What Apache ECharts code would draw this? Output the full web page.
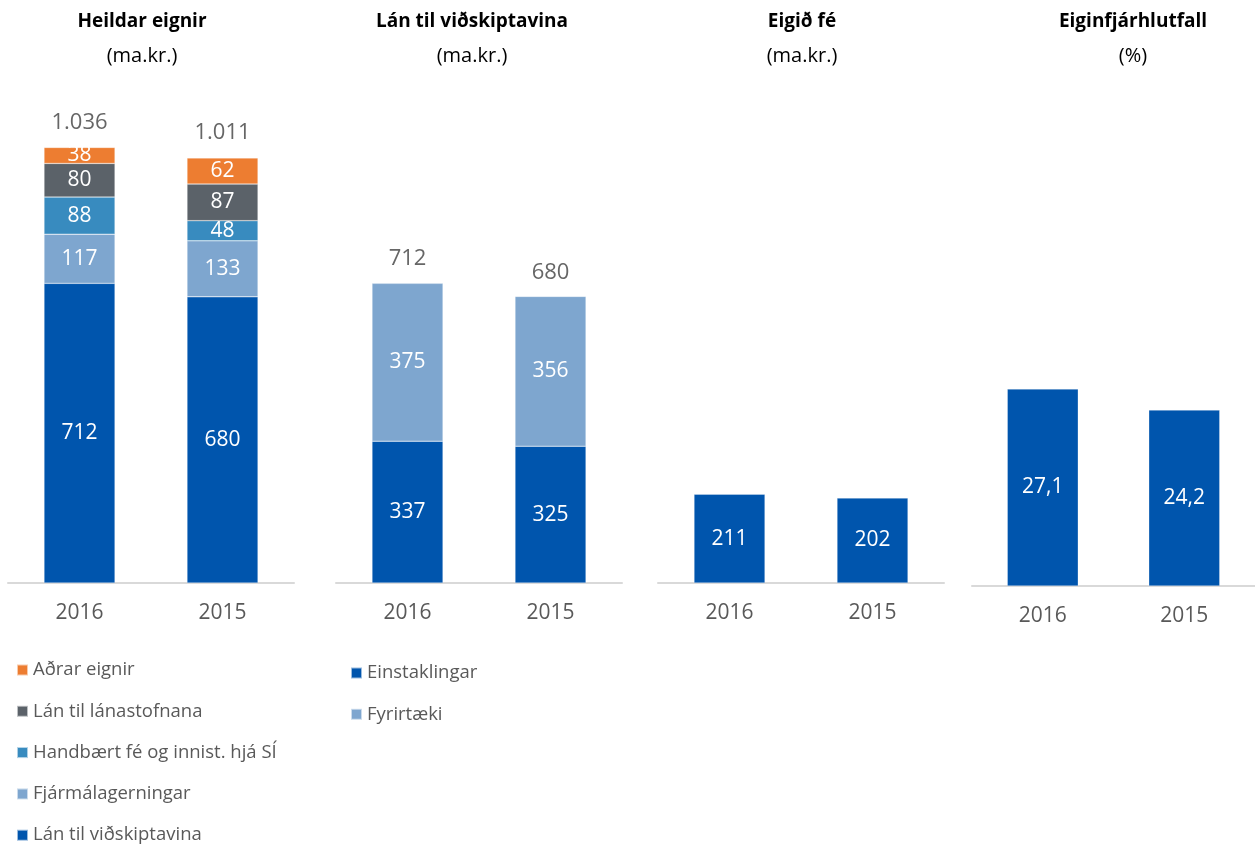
<!DOCTYPE html>
<html>
<head>
<meta charset="utf-8">
<script src="https://cdn.jsdelivr.net/npm/echarts@6/dist/echarts.min.js"></script>
<style>
  html, body { margin: 0; padding: 0; background: #fff; }
  #chart { width: 1255px; height: 845px; }
</style>
</head>
<body>
<div id="chart"></div>
<script>
// Efnahagur - lykiltölur
const years = ['2016', '2015'];

// Heildar eignir (ma.kr.)
const otherAssets = [38, 62];
const interbankLoans = [80, 87];
const cashAtCentralBank = [88, 48];
const securities = [117, 133];
const customerLoans = [712, 680];
const totalAssets = [1036, 1011];

// Lán til viðskiptavina (ma.kr.)
const individuals = [337, 325];
const companies = [375, 356];
const totalLoans = [712, 680];

// Eigið fé (ma.kr.) og eiginfjárhlutfall (%)
const equity = [211, 202];
const capitalRatio = [27.1, 24.2];

const FONT = '"Open Sans", "Noto Sans", sans-serif';
const C_ORANGE = '#ED7D31';
const C_GREY = '#5B6269';
const C_TEAL = '#388BBF';
const C_LIGHT = '#7EA6CF';
const C_BLUE = '#0055AD';

// íslensk talnasnið: 1.036 og 27,1
const fmt = v => {
    const parts = String(v).split('.');
    parts[0] = parts[0].replace(/\B(?=(\d{3})+(?!\d))/g, '.');
    return parts.join(',');
};

const inLabel = { show: true, position: 'inside', color: '#fff', fontSize: 21, fontFamily: FONT, formatter: p => fmt(p.value) };

const chart = echarts.init(document.getElementById('chart'));

const grids = [
    { left: 8, width: 286, bottom: 262, top: 78 },
    { left: 336, width: 286, bottom: 262, top: 78 },
    { left: 658, width: 286, bottom: 262, top: 78 },
    { left: 972, width: 283, bottom: 259, top: 77 }
];

const bar = (name, data, idx, color, stack) => ({
    name, type: 'bar', data, stack,
    xAxisIndex: idx, yAxisIndex: idx,
    barWidth: 71,
    itemStyle: { color, borderColor: 'rgba(255,255,255,0.6)', borderWidth: 0.5 },
    label: inLabel
});

const totalLabel = (name, data, idx) => ({
    name, type: 'scatter', data,
    xAxisIndex: idx, yAxisIndex: idx,
    symbolSize: 1,
    itemStyle: { color: 'rgba(0,0,0,0)' },
    label: { show: true, position: 'top', distance: 13, color: '#404040', fontSize: 22, fontFamily: FONT, formatter: p => fmt(p.value) }
});

const titleAt = (x, text, sub) => ({
    text, subtext: sub, left: x, top: 12, textAlign: 'center', itemGap: 15, padding: 0,
    textStyle: { fontFamily: FONT, fontSize: 19, fontWeight: 'bold', color: '#000' },
    subtextStyle: { fontFamily: FONT, fontSize: 20, color: '#000' }
});

const legendStyle = { fontFamily: FONT, fontSize: 18.5, color: '#595959', lineHeight: 22 };

const option = {
    animation: false,
    backgroundColor: '#fff',
    title: [
        titleAt(142, 'Heildar eignir', '(ma.kr.)'),
        titleAt(472, 'Lán til viðskiptavina', '(ma.kr.)'),
        titleAt(802, 'Eigið fé', '(ma.kr.)'),
        titleAt(1133, 'Eiginfjárhlutfall', '(%)')
    ],
    legend: [
        {
            data: ['Aðrar eignir', 'Lán til lánastofnana', 'Handbært fé og innist. hjá SÍ', 'Fjármálagerningar', 'Lán til viðskiptavina'],
            orient: 'vertical', left: 16, top: 659, height: 220, padding: 0, icon: 'rect',
            itemWidth: 11, itemHeight: 11, itemGap: 19.3,
            textStyle: legendStyle
        },
        {
            data: ['Einstaklingar', 'Fyrirtæki'],
            orient: 'vertical', left: 350, top: 662, height: 100, padding: 0, icon: 'rect',
            itemWidth: 11, itemHeight: 11, itemGap: 19.3,
            textStyle: legendStyle
        }
    ],
    grid: grids,
    xAxis: grids.map((g, i) => ({
        type: 'category', data: years, gridIndex: i,
        axisLine: { lineStyle: { color: '#D9D9D9', width: 2 } },
        axisTick: { show: false },
        axisLabel: { color: '#595959', fontSize: 21, fontFamily: FONT, margin: 20 }
    })),
    yAxis: grids.map((g, i) => ({
        type: 'value', gridIndex: i, min: 0, max: i === 3 ? 70 : 1200,
        show: false, splitLine: { show: false }
    })),
    series: [
        bar('Lán til viðskiptavina', customerLoans, 0, C_BLUE, 'eignir'),
        bar('Fjármálagerningar', securities, 0, C_LIGHT, 'eignir'),
        bar('Handbært fé og innist. hjá SÍ', cashAtCentralBank, 0, C_TEAL, 'eignir'),
        bar('Lán til lánastofnana', interbankLoans, 0, C_GREY, 'eignir'),
        bar('Aðrar eignir', otherAssets, 0, C_ORANGE, 'eignir'),
        totalLabel('Heildar eignir', totalAssets, 0),

        bar('Einstaklingar', individuals, 1, C_BLUE, 'lan'),
        bar('Fyrirtæki', companies, 1, C_LIGHT, 'lan'),
        totalLabel('Lán alls', totalLoans, 1),

        bar('Eigið fé', equity, 2, C_BLUE),
        bar('Eiginfjárhlutfall', capitalRatio, 3, C_BLUE)
    ]
};

chart.setOption(option);
</script>
</body>
</html>
